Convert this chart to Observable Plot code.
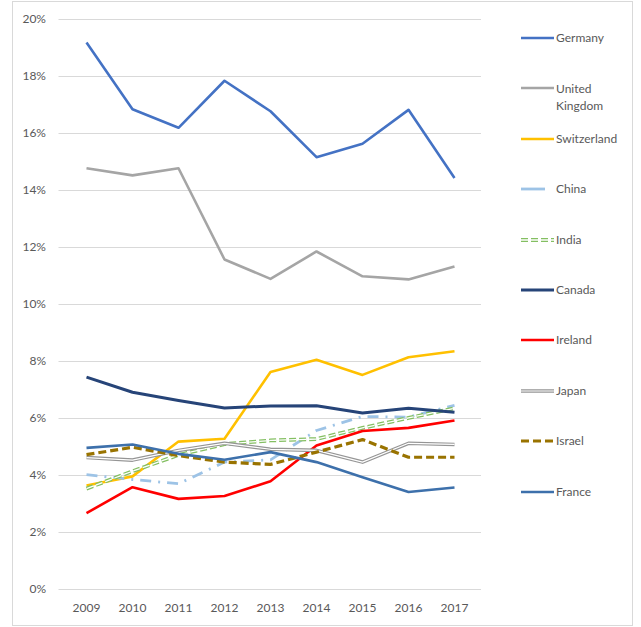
<!DOCTYPE html>
<html>
<head>
<meta charset="utf-8">
<script src="https://cdn.jsdelivr.net/npm/d3@7"></script>
<script src="https://cdn.jsdelivr.net/npm/@observablehq/plot@0.6"></script>
<style>
  html, body { margin: 0; padding: 0; background: #fff; }
  #wrap { position: relative; width: 641px; height: 627px; overflow: hidden; font-family: Lato, "Open Sans", sans-serif; }
  #frame { position: absolute; left: 12px; top: 1px; width: 621px; height: 625px; box-sizing: border-box; border: 1px solid #D9D9D9; pointer-events: none; }
  #chart { position: absolute; left: 0; top: 0; }
  #legend { position: absolute; left: 0; top: 0; width: 641px; height: 627px; pointer-events: none; }
  .entry { position: absolute; left: 519px; height: 0; }
  .entry svg { position: absolute; left: 0; top: -4px; }
  .entry .lbl { position: absolute; left: 37px; top: -8px; font-size: 12px; line-height: 16px; color: #595959; white-space: nowrap; }
</style>
</head>
<body>
<div id="wrap">
  <div id="chart"></div>
  <div id="legend"></div>
  <div id="frame"></div>
</div>
<script>
const years = [2009, 2010, 2011, 2012, 2013, 2014, 2015, 2016, 2017];
const yTicks = [0, 2, 4, 6, 8, 10, 12, 14, 16, 18, 20];

const germany     = [19.19, 16.85, 16.20, 17.85, 16.78, 15.17, 15.64, 16.83, 14.44];
const uk          = [14.78, 14.53, 14.78, 11.58, 10.90, 11.86, 10.99, 10.88, 11.33];
const switzerland = [3.65, 3.97, 5.19, 5.29, 7.63, 8.06, 7.53, 8.15, 8.36];
const china       = [4.03, 3.86, 3.71, 4.47, 4.55, 5.58, 6.07, 6.05, 6.46];
const india       = [3.54, 4.15, 4.72, 5.10, 5.23, 5.28, 5.67, 6.02, 6.36];
const canada      = [7.45, 6.92, 6.63, 6.37, 6.44, 6.45, 6.19, 6.36, 6.22];
const ireland     = [2.68, 3.59, 3.18, 3.28, 3.80, 5.05, 5.56, 5.67, 5.93];
const japan       = [4.63, 4.54, 4.88, 5.13, 4.92, 4.88, 4.47, 5.13, 5.09];
const israel      = [4.73, 4.99, 4.70, 4.47, 4.39, 4.82, 5.26, 4.64, 4.64];
const france      = [4.97, 5.09, 4.76, 4.55, 4.82, 4.47, 3.94, 3.42, 3.58];

const countries = ["Germany", "United Kingdom", "Switzerland", "China", "India", "Canada", "Ireland", "Japan", "Israel", "France"];
const seriesValues = [germany, uk, switzerland, china, india, canada, ireland, japan, israel, france];

// styles: list of stroke layers per series
const styles = {
  "Germany": [{stroke: "#4472C4", strokeWidth: 2.6}],
  "United Kingdom": [{stroke: "#A5A5A5", strokeWidth: 2.6}],
  "Switzerland": [{stroke: "#FFC000", strokeWidth: 2.6}],
  "China": [{stroke: "#9DC3E6", strokeWidth: 2.8, strokeDasharray: "11,7,2,7"}],
  "India": [{stroke: "#84BF62", strokeWidth: 3.8, strokeDasharray: "7,3"}, {stroke: "#ffffff", strokeWidth: 1.3, strokeDasharray: "7,3"}],
  "Canada": [{stroke: "#264478", strokeWidth: 3}],
  "Ireland": [{stroke: "#FF0000", strokeWidth: 2.6}],
  "Japan": [{stroke: "#959595", strokeWidth: 3.6}, {stroke: "#ffffff", strokeWidth: 1.2}],
  "Israel": [{stroke: "#997300", strokeWidth: 3.2, strokeDasharray: "8,4"}],
  "France": [{stroke: "#3D70AB", strokeWidth: 2.6}]
};

const rows = [];
countries.forEach((c, i) => {
  seriesValues[i].forEach((v, j) => rows.push({country: c, year: years[j], value: v}));
});

const lineMarks = [];
countries.forEach(c => {
  styles[c].forEach(s => {
    lineMarks.push(Plot.line(rows.filter(r => r.country === c), {
      x: "year", y: "value", strokeLinejoin: "round", strokeLinecap: "butt", ...s
    }));
  });
});

const chart = Plot.plot({
  width: 641,
  height: 627,
  marginLeft: 58.5,
  marginRight: 160,
  marginTop: 19,
  marginBottom: 38,
  style: {fontFamily: "Lato, 'Open Sans', sans-serif", fontSize: "12px", color: "#595959", background: "transparent"},
  x: {type: "point", domain: years, padding: 0.5, label: null},
  y: {domain: [0, 20], label: null},
  marks: [
    Plot.ruleY(yTicks, {stroke: "#D9D9D9", strokeWidth: 1.2}),
    Plot.axisY({ticks: yTicks, tickSize: 0, tickPadding: 13, tickFormat: d => d + "%", label: null, fontSize: 12}),
    Plot.axisX({tickSize: 0, tickPadding: 14, tickFormat: d => String(d), label: null, fontSize: 12}),
    ...lineMarks
  ]
});
document.getElementById("chart").appendChild(chart);

// legend
const legend = document.getElementById("legend");
const ns = "http://www.w3.org/2000/svg";
countries.forEach((c, i) => {
  const y = 38 + i * 50.4;
  const e = document.createElement("div");
  e.className = "entry";
  e.style.top = y + "px";
  const svg = document.createElementNS(ns, "svg");
  svg.setAttribute("width", 36);
  svg.setAttribute("height", 8);
  styles[c].forEach(s => {
    const ln = document.createElementNS(ns, "line");
    const len = c === "China" ? 24 : 33;
    ln.setAttribute("x1", 2); ln.setAttribute("x2", 2 + len);
    ln.setAttribute("y1", 4); ln.setAttribute("y2", 4);
    ln.setAttribute("stroke", s.stroke);
    ln.setAttribute("stroke-width", s.strokeWidth);
    if (s.strokeDasharray && c !== "China") ln.setAttribute("stroke-dasharray", s.strokeDasharray);
    svg.appendChild(ln);
  });
  e.appendChild(svg);
  const t = document.createElement("div");
  t.className = "lbl";
  if (c === "United Kingdom") {
    t.innerHTML = "United<br>Kingdom";
    t.style.lineHeight = "17px";
  } else {
    t.textContent = c;
  }
  e.appendChild(t);
  legend.appendChild(e);
});
</script>
</body>
</html>
